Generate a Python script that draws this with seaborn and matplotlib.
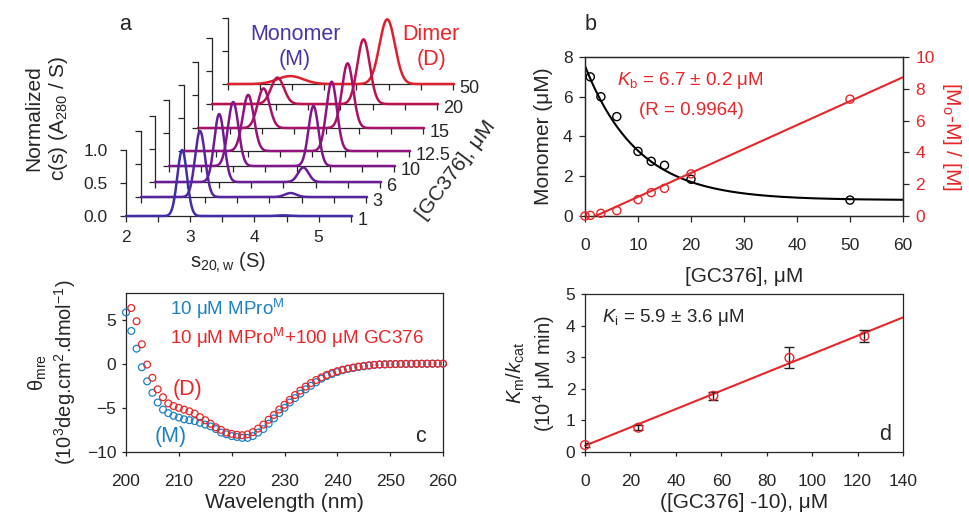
import numpy as np
import pandas as pd
import matplotlib
matplotlib.use('Agg')
import matplotlib.pyplot as plt
import seaborn as sns

sns.set_style('ticks')
plt.rcParams['font.family'] = ['Liberation Sans', 'DejaVu Sans']
plt.rcParams['mathtext.fontset'] = 'custom'
plt.rcParams['mathtext.rm'] = 'Liberation Sans'
plt.rcParams['mathtext.it'] = 'Liberation Sans:italic'
plt.rcParams['mathtext.bf'] = 'Liberation Sans:bold'
plt.rcParams['axes.linewidth'] = 0.9

# ---- data: panel a (c(s) peaks) ----
conc_labels = ['1', '3', '6', '10', '12.5', '15', '20', '50']
mono_pos = [2.875, 2.92, 3.0, 3.0, 3.0, 3.02, 3.02, 2.97]
mono_h = [1.0, 1.0, 1.03, 0.97, 0.85, 0.6, 0.4, 0.12]
mono_w = [0.075, 0.078, 0.078, 0.082, 0.087, 0.092, 0.1, 0.2]
dim_pos = [4.44, 4.33, 4.31, 4.25, 4.30, 4.33, 4.36, 4.48]
dim_h = [0.01, 0.06, 0.22, 0.91, 1.05, 0.98, 0.98, 0.98]
dim_w = [0.09, 0.09, 0.082, 0.078, 0.082, 0.087, 0.097, 0.12]
trace_colors = ['#3f2ea6', '#5526a0', '#6a1d96', '#7f178a', '#94137a',
                '#a8116a', '#bd1250', '#dd1f2e']

# ---- panel b ----
gc_conc = [0, 1, 3, 6, 10, 12.5, 15, 20, 50]
monomer = [np.nan, 7.0, 6.0, 5.0, 3.25, 2.75, 2.55, 1.85, 0.8]
ratio = [0.0, 0.04, 0.17, 0.34, 1.03, 1.47, 1.74, 2.65, 7.35]
mono_fit = dict(base=0.8, amp=6.75, tau=10.0)
ratio_fit = dict(x0=2.0, slope=0.1505)

# ---- panel c (CD spectra) ----
wl_m = np.arange(200, 261)
cd_m = [5.8, 3.7, 1.7, -0.4, -2.0, -3.3, -4.4, -5.2, -5.6, -5.9,
        -6.1, -6.3, -6.4, -6.5, -6.7, -6.9, -7.1, -7.4, -7.8, -8.0,
        -8.2, -8.3, -8.4, -8.4, -8.2, -7.8, -7.4, -6.8, -6.2, -5.6,
        -5.0, -4.4, -3.9, -3.4, -2.9, -2.5, -2.1, -1.7, -1.4, -1.17,
        -0.95, -0.75, -0.6, -0.5, -0.38, -0.3, -0.22, -0.15, -0.1, -0.08,
        -0.06, -0.05, -0.04, -0.03, -0.02, -0.02, -0.01, -0.01, 0.0, 0.0,
        0.0]
wl_d = np.arange(201, 261)
cd_d = [6.3, 4.8, 2.2, -0.1, -1.6, -2.9, -3.8, -4.5, -4.8,
        -5.0, -5.2, -5.4, -5.65, -6.05, -6.4, -6.8, -7.2, -7.5, -7.8,
        -7.95, -8.05, -8.1, -8.0, -7.75, -7.35, -6.9, -6.35, -5.8, -5.2,
        -4.65, -4.1, -3.55, -3.05, -2.6, -2.2, -1.85, -1.55, -1.27, -1.05,
        -0.85, -0.68, -0.55, -0.43, -0.33, -0.25, -0.18, -0.13, -0.09, -0.07,
        -0.05, -0.04, -0.03, -0.02, -0.02, -0.01, -0.01, 0.0, 0.0, 0.0,
        0.0]

# ---- panel d ----
gc_minus10 = [0, 23.5, 56.5, 90, 123]
km_kcat = [0.22, 0.77, 1.78, 2.98, 3.67]
km_err = [0.05, 0.08, 0.12, 0.33, 0.18]
ki_fit = dict(a=0.2, b=0.029)

RED = '#e8262a'
BLUE = '#1b80c4'
INDIGO = '#4a35a8'

W, H = 969, 521
fig = plt.figure(figsize=(W / 100, H / 100), dpi=100)


def px_axes(left, top, right, bottom):
    return fig.add_axes([left / W, 1 - bottom / H, (right - left) / W, (bottom - top) / H])


# ================= panel a : waterfall =================
origins = [(126, 216), (141, 197), (155, 182), (169, 166),
           (184, 151), (198, 128), (212, 104), (228, 84)]
s_grid = np.linspace(2.0, 5.52, 400)
for i in reversed(range(len(conc_labels))):
    ox, oy = origins[i]
    ax = px_axes(ox, oy - 66, ox + 226, oy)
    ax.patch.set_visible(False)
    cs = (mono_h[i] * np.exp(-0.5 * ((s_grid - mono_pos[i]) / mono_w[i]) ** 2)
          + dim_h[i] * np.exp(-0.5 * ((s_grid - dim_pos[i]) / dim_w[i]) ** 2))
    df = pd.DataFrame({'s': s_grid, 'c': cs})
    sns.lineplot(data=df, x='s', y='c', ax=ax, color=trace_colors[i], lw=1.8,
                 zorder=3, clip_on=False)
    ax.set_xlim(2.0, 5.52)
    ax.set_ylim(0, 1.0)
    sns.despine(ax=ax)
    ax.set_xticks(np.arange(2, 5.51, 0.5))
    ax.set_yticks([0, 0.5, 1.0])
    ax.tick_params(direction='out', length=4, width=0.9, labelsize=12.5, pad=3)
    ax.set_xlabel('')
    ax.set_ylabel('')
    if i == 0:
        ax.set_xticklabels(['2', '', '3', '', '4', '', '5', ''])
        ax.set_yticklabels(['0.0', '0.5', '1.0'])
        ax.tick_params(axis='x', pad=6)
        ax.tick_params(axis='y', pad=9)
    else:
        ax.tick_params(labelbottom=False, labelleft=False)
    ax.annotate(conc_labels[i], xy=(1, 0), xycoords='axes fraction',
                xytext=(4, -3), textcoords='offset points',
                ha='left', va='center', fontsize=13)

fig.text(47 / W, 1 - 118 / H, 'Normalized\nc(s) (A$_{280}$ / S)', rotation=90,
         ha='center', va='center', multialignment='center', fontsize=15)
fig.text(228 / W, 1 - 263 / H, 's$_\\mathrm{20,w}$ (S)', ha='center', va='center',
         fontsize=14.5)
fig.text(456 / W, 1 - 170 / H, '[GC376], μM', rotation=53, ha='center', va='center',
         rotation_mode='anchor', fontsize=15)
fig.text(295 / W, 1 - 47 / H, 'Monomer\n(M)', color=INDIGO, ha='center', va='center',
         fontsize=15.5, linespacing=1.25)
fig.text(431 / W, 1 - 47 / H, 'Dimer\n(D)', color=RED, ha='center', va='center',
         fontsize=15.5, linespacing=1.25)
fig.text(125 / W, 1 - 25 / H, 'a', ha='center', va='center', fontsize=15.5)

# ================= panel b =================
axb = px_axes(585, 57, 903, 216)
xf = np.linspace(0, 60, 300)
fit_b = pd.DataFrame({'x': xf, 'y': mono_fit['base'] + mono_fit['amp'] * np.exp(-xf / mono_fit['tau'])})
sns.lineplot(data=fit_b, x='x', y='y', ax=axb, color='black', lw=1.5)
sns.scatterplot(x=gc_conc, y=monomer, ax=axb, marker='o', s=34,
                facecolor='none', edgecolor='black', linewidth=1.0, zorder=4)
axb.set_xlim(0, 60)
axb.set_ylim(0, 8)
axb.set_xticks(range(0, 61, 10))
axb.set_yticks(range(0, 9, 2))
axb.tick_params(direction='out', length=4, width=0.9, labelsize=12.5, pad=5)
axb.tick_params(axis='x', pad=12)
axb.set_xlabel('[GC376], μM', fontsize=15, labelpad=10)
axb.set_ylabel('Monomer (μM)', fontsize=15, labelpad=7)

axb2 = axb.twinx()
xr = np.linspace(ratio_fit['x0'], 60, 50)
fit_r = pd.DataFrame({'x': xr, 'y': ratio_fit['slope'] * (xr - ratio_fit['x0'])})
sns.lineplot(data=fit_r, x='x', y='y', ax=axb2, color=RED, lw=1.5)
sns.scatterplot(x=gc_conc, y=ratio, ax=axb2, marker='o', s=34, clip_on=False,
                facecolor='none', edgecolor=RED, linewidth=1.0, zorder=4)
axb2.set_ylim(0, 10)
axb2.set_yticks(range(0, 11, 2))
axb2.tick_params(direction='out', length=4, width=0.9, labelsize=12.5, pad=5,
                 labelcolor=RED)
axb2.set_ylabel('[M$_\\mathrm{o}$-M] / [M]', color=RED, fontsize=15, rotation=270,
                labelpad=20)
axb2.set_xlabel('')
axb.text(0.10, 0.85, '$K_\\mathrm{b}$ = 6.7 ± 0.2 μM', transform=axb.transAxes,
         color=RED, fontsize=13.5, ha='left', va='center')
axb.text(0.17, 0.666, '(R = 0.9964)', transform=axb.transAxes,
         color=RED, fontsize=13.5, ha='left', va='center')
fig.text(591 / W, 1 - 25 / H, 'b', ha='center', va='center', fontsize=15.5)

# ================= panel c =================
axc = px_axes(126, 293, 443, 452)
sns.scatterplot(x=wl_m, y=cd_m, ax=axc, marker='o', s=24, facecolor='none',
                edgecolor=BLUE, linewidth=0.9, clip_on=False, zorder=3)
sns.scatterplot(x=wl_d, y=cd_d, ax=axc, marker='o', s=24, facecolor='none',
                edgecolor=RED, linewidth=0.9, clip_on=False, zorder=4)
axc.set_xlim(200, 260)
axc.set_ylim(-10, 8)
axc.set_xticks(range(200, 261, 10))
axc.set_yticks([-10, -5, 0, 5])
axc.tick_params(direction='out', length=3, width=0.9, labelsize=12.5, pad=4)
axc.tick_params(axis='x', pad=13)
axc.set_xlabel('Wavelength (nm)', fontsize=15, labelpad=3)
axc.set_ylabel('θ$_\\mathrm{mre}$\n(10$^3$deg.cm$^2$.dmol$^{-1}$)', fontsize=14.5,
               labelpad=6, multialignment='center')
axc.text(0.14, 0.9, '10 μM MPro$^\\mathrm{M}$', transform=axc.transAxes, color=BLUE,
         fontsize=13.5, ha='left', va='center')
axc.text(0.14, 0.72, '10 μM MPro$^\\mathrm{M}$+100 μM GC376', transform=axc.transAxes,
         color=RED, fontsize=13.5, ha='left', va='center')
axc.text(0.195, 0.39, '(D)', transform=axc.transAxes, color=RED, fontsize=15.5,
         ha='center', va='center')
axc.text(0.14, 0.095, '(M)', transform=axc.transAxes, color=BLUE, fontsize=15.5,
         ha='center', va='center')
axc.text(0.93, 0.1, 'c', transform=axc.transAxes, fontsize=15.5, ha='center', va='center')

# ================= panel d =================
axd = px_axes(585, 294, 903, 452)
xd = np.linspace(0, 140, 100)
fit_d = pd.DataFrame({'x': xd, 'y': ki_fit['a'] + ki_fit['b'] * xd})
sns.lineplot(data=fit_d, x='x', y='y', ax=axd, color=RED, lw=1.5, clip_on=False)
axd.errorbar(gc_minus10, km_kcat, yerr=km_err, fmt='none', ecolor='#222222',
             elinewidth=1.0, capsize=3.5, capthick=1.0, zorder=3)
sns.scatterplot(x=gc_minus10, y=km_kcat, ax=axd, marker='o', s=40, facecolor='none',
                edgecolor=RED, linewidth=1.0, clip_on=False, zorder=4)
axd.set_xlim(0, 140)
axd.set_ylim(0, 5)
axd.set_xticks(range(0, 141, 20))
axd.set_yticks(range(0, 6))
axd.tick_params(direction='out', length=3, width=0.9, labelsize=12.5, pad=4)
axd.tick_params(axis='x', pad=13)
axd.set_xlabel('([GC376] -10), μM', fontsize=15, labelpad=3)
axd.set_ylabel('$K_\\mathrm{m}/k_\\mathrm{cat}$\n(10$^4$ μM min)', fontsize=14.5,
               labelpad=6, multialignment='center')
axd.text(0.055, 0.85, '$K_\\mathrm{i}$ = 5.9 ± 3.6 μM', transform=axd.transAxes,
         fontsize=13.5, ha='left', va='center')
axd.text(0.945, 0.11, 'd', transform=axd.transAxes, fontsize=15.5, ha='center', va='center')

fig.savefig('out.png', dpi=100)
